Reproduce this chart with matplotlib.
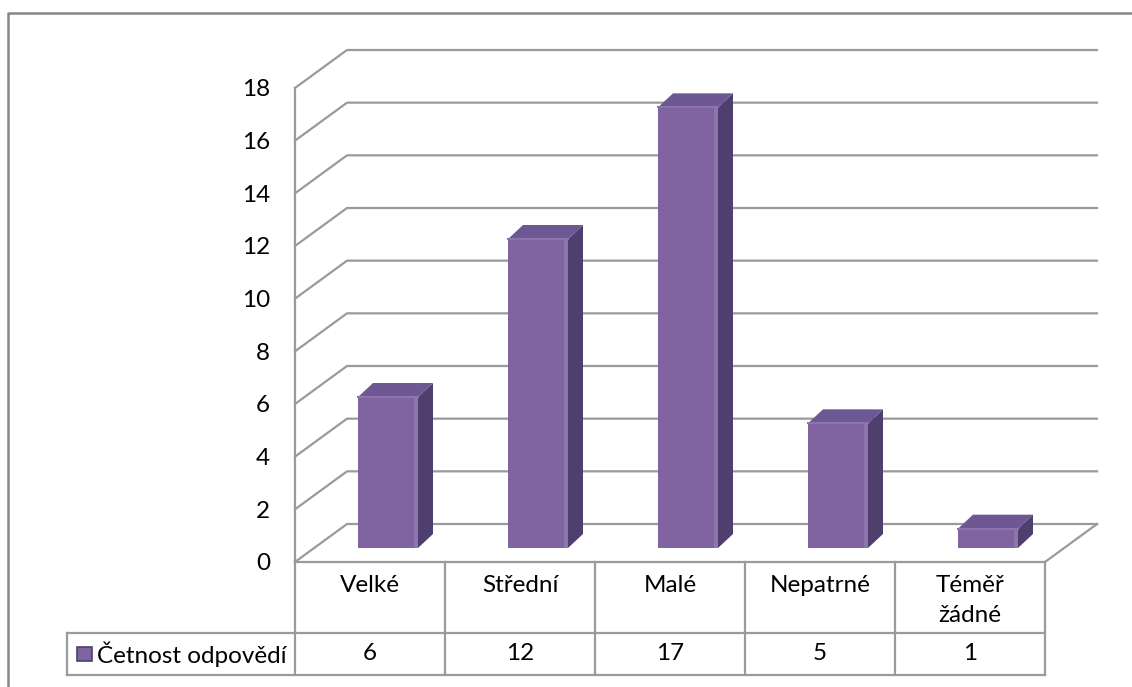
import matplotlib
matplotlib.use("Agg")
import matplotlib.pyplot as plt
from matplotlib.patches import Polygon, Rectangle
from matplotlib.lines import Line2D
import numpy as np

# ---- data ----
categories = ["Velké", "Střední", "Malé", "Nepatrné", "Téměř\nžádné"]
values = [6, 12, 17, 5, 1]
series_name = "Četnost odpovědí"
yticks = [0, 2, 4, 6, 8, 10, 12, 14, 16, 18]

# ---- style ----
W, H, DPI = 1132, 687, 100
FONT = ["Lato", "DejaVu Sans"]
FS = 17.5
GRID = "#9a9a9a"
FRONT = "#8064A2"
SIDE = "#4F3F6E"
TOP = "#6E5894"

fig = plt.figure(figsize=(W / DPI, H / DPI), dpi=DPI)
ax_l, ax_r, ax_b, ax_t = 295, 1045, 562, 88
ax = fig.add_axes([ax_l / W, 1 - ax_b / H, (ax_r - ax_l) / W, (ax_b - ax_t) / H])
ax.set_xlim(-0.5, len(categories) - 0.5)
ax.set_ylim(0, 18)
ax.set_facecolor("none")

px_x = (ax_r - ax_l) / len(categories)   # px per category unit
px_y = (ax_b - ax_t) / 18.0               # px per value unit

# depth of the 3D box (in data units)
DX = 52 / px_x
DY = 38 / px_y

# spines / axes
for s in ["top", "right"]:
    ax.spines[s].set_visible(False)
for s in ["left", "bottom"]:
    ax.spines[s].set_color(GRID)
    ax.spines[s].set_linewidth(1.6)
ax.set_xticks([])
ax.set_yticks(yticks)
ax.set_yticklabels([str(t) for t in yticks], fontfamily=FONT, fontsize=FS)
ax.tick_params(axis="y", length=0, pad=18)

x0, x1 = -0.5, len(categories) - 0.5
# gridlines: side wall diagonals + back wall horizontals
for t in yticks:
    ax.add_line(Line2D([x0, x0 + DX, x1 + DX], [t, t + DY, t + DY],
                       color=GRID, lw=1.6, clip_on=False, zorder=1))
# floor right edge
ax.add_line(Line2D([x1, x1 + DX], [0, DY], color=GRID, lw=1.6, clip_on=False, zorder=1))

# ---- bars (pseudo 3D) ----
bar_off = 18 / px_x       # horizontal shift of bar front face
top_off = 7 / px_y        # vertical shift of bar front top
base = 14 / px_y          # floor level at bar front
hw = 0.2                  # half width of bar
bdx = 15 / px_x
bdy = 14 / px_y
for i, v in enumerate(values):
    cx = i + bar_off
    l, r = cx - hw, cx + hw
    top = v + top_off
    # side
    ax.add_patch(Polygon([[r, base], [r + bdx, base + bdy], [r + bdx, top + bdy], [r, top]],
                         closed=True, facecolor=SIDE, edgecolor="none", zorder=3, clip_on=False))
    # top
    ax.add_patch(Polygon([[l, top], [l + bdx, top + bdy], [r + bdx, top + bdy], [r, top]],
                         closed=True, facecolor=TOP, edgecolor="none", zorder=3, clip_on=False))
    # front face
    ax.add_patch(Rectangle((l, base), 2 * hw, top - base, facecolor=FRONT,
                           edgecolor="none", zorder=4, clip_on=False))
    # subtle bevel highlights
    ax.add_patch(Rectangle((r - 0.025, base), 0.025, top - base, facecolor="#9783b6",
                           edgecolor="none", zorder=5, clip_on=False, alpha=0.6))
    ax.add_line(Line2D([l, r], [top, top], color="#8c75ad", lw=1.5, zorder=5, clip_on=False))

# ---- data table ----
row1 = -(633 - ax_b) / px_y
row2 = -(675 - ax_b) / px_y
leg_x = (67 - ax_l) / px_x - 0.5
tbl = dict(color=GRID, lw=1.6, clip_on=False, zorder=2)
for k in range(len(categories) + 1):
    ax.add_line(Line2D([x0 + k, x0 + k], [0, row2], **tbl))
ax.add_line(Line2D([leg_x, x1], [row1, row1], **tbl))
ax.add_line(Line2D([leg_x, x1], [row2, row2], **tbl))
ax.add_line(Line2D([leg_x, leg_x], [row1, row2], **tbl))

line1 = -(587 - ax_b) / px_y
for i, (c, v) in enumerate(zip(categories, values)):
    ax.text(i, line1 + 0.45, c, ha="center", va="top", fontfamily=FONT, fontsize=FS,
            linespacing=1.5, clip_on=False)
    ax.text(i, (row1 + row2) / 2, str(v), ha="center", va="center", fontfamily=FONT,
            fontsize=FS, clip_on=False)
# legend key + name
key_w = 15 / px_x
key_h = 14 / px_y
kx = (77 - ax_l) / px_x - 0.5
ax.add_patch(Rectangle((kx, (row1 + row2) / 2 - key_h / 2), key_w, key_h,
                       facecolor=FRONT, edgecolor="#4F3F6E", lw=1.2, clip_on=False, zorder=3))
ax.text(kx + key_w + 5 / px_x, (row1 + row2) / 2, series_name, ha="left", va="center",
        fontfamily=FONT, fontsize=FS, clip_on=False)

# ---- outer frame ----
fig.add_artist(Line2D([8 / W, 8 / W, 1.0], [0.0, 1 - 13 / H, 1 - 13 / H],
                      transform=fig.transFigure, color="#878787", lw=1.8))

fig.savefig("out.png", dpi=DPI)
